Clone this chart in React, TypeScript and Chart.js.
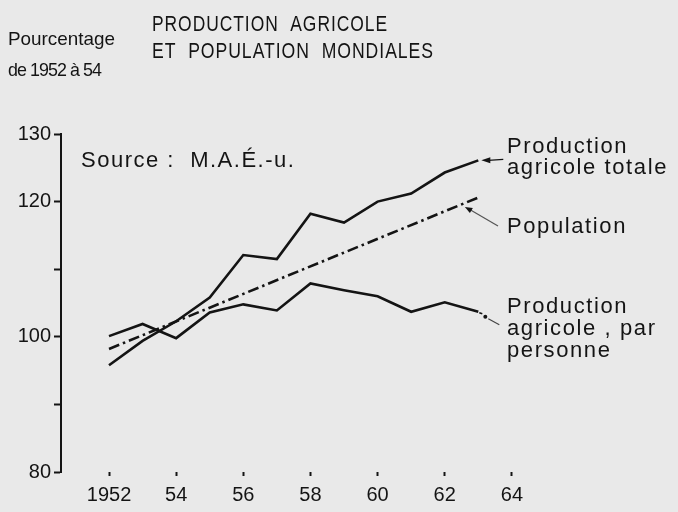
import React, { useEffect, useRef } from "react";
import { Chart, registerables } from "chart.js";

Chart.register(...registerables);

// ---- Data ----
const years = [1952, 1953, 1954, 1955, 1956, 1957, 1958, 1959, 1960, 1961, 1962, 1963];
const totalProduction = [95.8, 99.4, 102.3, 105.8, 112.1, 111.5, 118.2, 116.9, 120.0, 121.2, 124.3, 126.1];
const perCapitaProduction = [100.1, 101.9, 99.8, 103.6, 104.8, 103.9, 107.9, 106.9, 106.0, 103.7, 105.1, 103.7];
const populationYears = [1952, 1963];
const population = [98.2, 120.6];

const yTickValues = [80, 90, 100, 110, 120, 130];
const yTickLabels = ["80", "", "100", "", "120", "130"];
const xTickValues = [1952, 1954, 1956, 1958, 1960, 1962, 1964];
const xTickLabels = ["1952", "54", "56", "58", "60", "62", "64"];

const titleLines = ["PRODUCTION  AGRICOLE", "ET  POPULATION  MONDIALES"];
const unitLines = ["Pourcentage", "de 1952 à 54"];
const sourceText = "Source :  M.A.É.-u.";
const totalLabel = ["Production", "agricole totale"];
const populationLabel = ["Population"];
const perCapitaLabel = ["Production", "agricole , par", "personne"];

const FONT = '"Liberation Sans", Arial, Helvetica, sans-serif';
const INK = "#141414";
const BG = "#e9e9e9";

const annotationPlugin = {
  id: "annotations",
  afterDraw(chart: any) {
    const { ctx } = chart;
    const x = chart.scales.x;
    const y = chart.scales.y;
    ctx.save();
    ctx.fillStyle = INK;
    ctx.textBaseline = "alphabetic";
    ctx.textAlign = "left";

    // header texts
    ctx.font = `19px ${FONT}`;
    (ctx as any).letterSpacing = "0px";
    ctx.fillText(unitLines[0], 8, 45, 107);
    (ctx as any).letterSpacing = "-1px";
    ctx.fillText(unitLines[1], 8, 76, 93);

    ctx.font = `22px ${FONT}`;
    (ctx as any).letterSpacing = "1.2px";
    ctx.fillText(titleLines[0], 152, 31, 236);
    ctx.fillText(titleLines[1], 152, 58, 282);

    ctx.font = `22px ${FONT}`;
    (ctx as any).letterSpacing = "1.5px";
    ctx.fillText(sourceText, 81, 167, 217);

    // right-side labels
    ctx.font = `22px ${FONT}`;
    (ctx as any).letterSpacing = "1.6px";
    ctx.fillText(totalLabel[0], 507, 153, 168);
    ctx.fillText(totalLabel[1], 507, 174, 168);
    ctx.fillText(populationLabel[0], 507, 233, 168);
    ctx.fillText(perCapitaLabel[0], 507, 313, 168);
    ctx.fillText(perCapitaLabel[1], 507, 335, 168);
    ctx.fillText(perCapitaLabel[2], 507, 357, 168);
    (ctx as any).letterSpacing = "0px";

    // leader for total production
    const last = years.length - 1;
    const tx = x.getPixelForValue(years[last]);
    const ty = y.getPixelForValue(totalProduction[last]);
    ctx.strokeStyle = INK;
    ctx.lineWidth = 1.2;
    ctx.beginPath();
    ctx.moveTo(tx + 10, ty);
    ctx.lineTo(tx + 25, ty - 1);
    ctx.stroke();
    ctx.beginPath();
    ctx.moveTo(tx + 3, ty);
    ctx.lineTo(tx + 12, ty - 3);
    ctx.lineTo(tx + 12, ty + 3);
    ctx.closePath();
    ctx.fill();

    // leader for population
    const pYear = 1962.6;
    const pVal = population[0] + (population[1] - population[0]) * (pYear - populationYears[0]) / (populationYears[1] - populationYears[0]);
    const ptx = x.getPixelForValue(pYear);
    const pty = y.getPixelForValue(pVal) + 4;
    ctx.strokeStyle = "#555";
    ctx.lineWidth = 1.2;
    ctx.beginPath();
    ctx.moveTo(ptx + 4, pty + 2);
    ctx.lineTo(498, 226);
    ctx.stroke();
    ctx.fillStyle = INK;
    ctx.beginPath();
    ctx.moveTo(ptx, pty);
    ctx.lineTo(ptx + 8, pty + 1);
    ctx.lineTo(ptx + 5, pty + 6);
    ctx.closePath();
    ctx.fill();

    // leader for per capita production
    const cx = x.getPixelForValue(years[last]);
    const cy = y.getPixelForValue(perCapitaProduction[last]);
    ctx.strokeStyle = INK;
    ctx.lineWidth = 1.5;
    ctx.beginPath();
    ctx.moveTo(cx + 1, cy + 1);
    ctx.lineTo(cx + 4, cy + 2);
    ctx.stroke();
    ctx.beginPath();
    ctx.arc(cx + 7, cy + 5, 2, 0, Math.PI * 2);
    ctx.fill();
    ctx.lineWidth = 1.2;
    ctx.strokeStyle = "#444";
    ctx.beginPath();
    ctx.moveTo(cx + 10, cy + 7);
    ctx.lineTo(cx + 21, cy + 13);
    ctx.stroke();

    ctx.restore();
  },
};

const bgPlugin = {
  id: "bg",
  beforeDraw(chart: any) {
    const { ctx, width, height } = chart;
    ctx.save();
    ctx.fillStyle = BG;
    ctx.fillRect(0, 0, width, height);
    ctx.restore();
  },
};

export default function App() {
  const canvasRef = useRef<HTMLCanvasElement | null>(null);

  useEffect(() => {
    if (!canvasRef.current) return;
    const chart = new Chart(canvasRef.current, {
      type: "line",
      data: {
        datasets: [
          {
            label: "Production agricole totale",
            data: years.map((yr, i) => ({ x: yr, y: totalProduction[i] })),
            borderColor: INK,
            borderWidth: 2.6,
            pointRadius: 0,
            tension: 0,
            fill: false,
          },
          {
            label: "Production agricole, par personne",
            data: years.map((yr, i) => ({ x: yr, y: perCapitaProduction[i] })),
            borderColor: INK,
            borderWidth: 2.6,
            pointRadius: 0,
            tension: 0,
            fill: false,
          },
          {
            label: "Population",
            data: populationYears.map((yr, i) => ({ x: yr, y: population[i] })),
            borderColor: INK,
            borderWidth: 2.6,
            borderDash: [11, 4, 2.5, 4],
            pointRadius: 0,
            tension: 0,
            fill: false,
          },
        ],
      },
      options: {
        animation: false,
        responsive: false,
        maintainAspectRatio: false,
        layout: { padding: { top: 134, right: 149, left: 0, bottom: 0 } },
        plugins: {
          legend: { display: false },
          tooltip: { enabled: false },
          title: { display: false },
        },
        scales: {
          x: {
            type: "linear",
            min: 1950.57,
            max: 1964.51,
            afterFit: (s: any) => {
              s.height = 40;
            },
            afterBuildTicks: (s: any) => {
              s.ticks = xTickValues.map((v) => ({ value: v }));
            },
            border: { display: false },
            grid: {
              drawOnChartArea: false,
              drawTicks: true,
              tickLength: 4,
              tickWidth: 2,
              tickColor: INK,
            },
            ticks: {
              color: INK,
              font: { family: FONT, size: 20 },
              padding: 7,
              maxRotation: 0,
              autoSkip: false,
              callback: (v: any) => {
                const i = xTickValues.indexOf(Number(v));
                return i >= 0 ? xTickLabels[i] : "";
              },
            },
          },
          y: {
            type: "linear",
            min: 80,
            max: 130,
            afterFit: (s: any) => {
              s.width = 61;
            },
            afterBuildTicks: (s: any) => {
              s.ticks = yTickValues.map((v) => ({ value: v }));
            },
            border: { display: true, color: INK, width: 2 },
            grid: {
              drawOnChartArea: false,
              drawTicks: true,
              tickLength: 7,
              tickWidth: 2,
              tickColor: INK,
            },
            ticks: {
              color: INK,
              font: { family: FONT, size: 20 },
              padding: 3,
              autoSkip: false,
              callback: (v: any) => {
                const i = yTickValues.indexOf(Number(v));
                return i >= 0 ? yTickLabels[i] : "";
              },
            },
          },
        },
      },
      plugins: [bgPlugin, annotationPlugin],
    });
    return () => chart.destroy();
  }, []);

  return (
    <div style={{ position: "absolute", left: 0, top: 0, width: 678, height: 512, background: BG }}>
      <canvas ref={canvasRef} width={678} height={512} style={{ display: "block", width: 678, height: 512 }} />
    </div>
  );
}
